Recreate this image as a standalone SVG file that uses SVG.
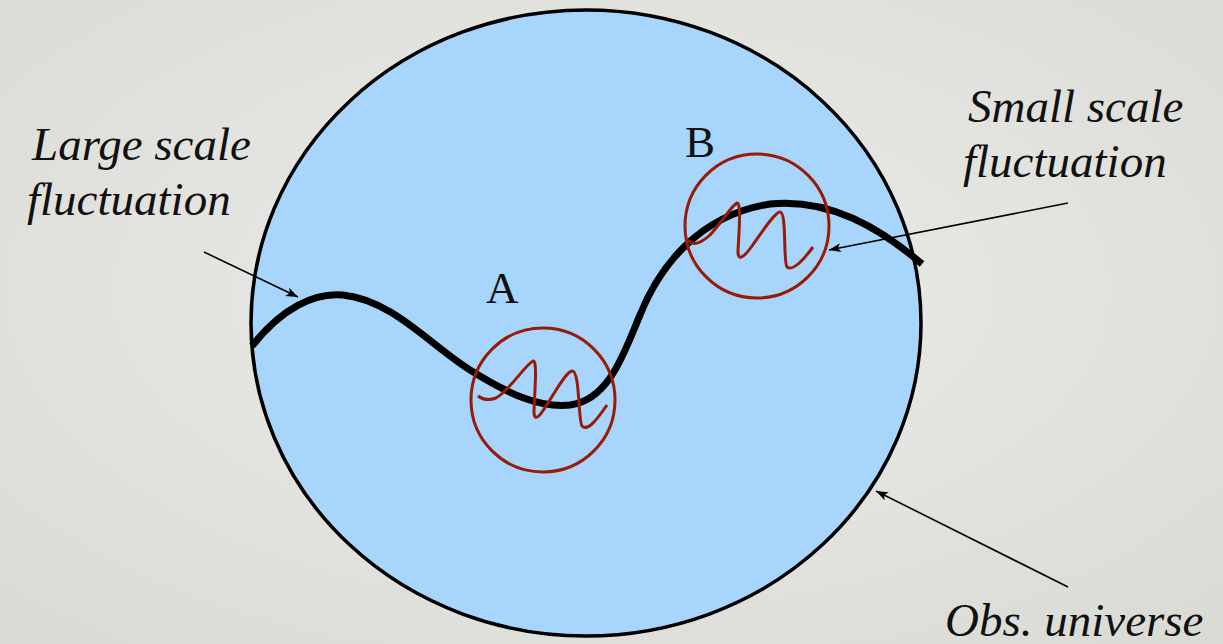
<svg xmlns="http://www.w3.org/2000/svg" width="1223" height="644" viewBox="0 0 1223 644">
<defs>
<radialGradient id="bg" cx="50%" cy="45%" r="75%">
<stop offset="0" stop-color="#ebebe8"/>
<stop offset="1" stop-color="#dadad5"/>
</radialGradient>
<marker id="ah" markerUnits="userSpaceOnUse" markerWidth="14" markerHeight="10" refX="12" refY="4.5" orient="auto">
<path d="M0,0 L12,4.5 L0,9 L3,4.5 z" fill="#000"/>
</marker>
<style>
.lbl{font-family:"Liberation Serif","Times New Roman",serif;font-style:italic;font-size:47px;fill:#111}
.pt{font-family:"Liberation Serif","Times New Roman",serif;font-size:45px;fill:#111}
.conn{stroke:#000;stroke-width:1.6;fill:none;marker-end:url(#ah)}
.red{stroke:#9a1a08;stroke-width:3;fill:none}
</style>
</defs>
<rect width="1223" height="644" fill="url(#bg)"/>
<g id="universe">
<ellipse cx="586" cy="323" rx="335" ry="313" fill="#a7d5fc" stroke="#000" stroke-width="3.5"/>
</g>
<g id="large-fluctuation">
<path d="M252,346 C 282,308 315,292 343,295 C 392,300 430,345 470,370 C 510,395 540,408 570,405 C 610,400 625,350 640,315 C 660,265 700,215 770,204 C 830,198 880,228 922,264" fill="none" stroke="#000" stroke-width="7"/>
</g>
<g id="region-A">
<circle cx="543" cy="400" r="72" class="red"/>
<path class="red" d="M478,396 Q486,402 496,398 C 510,390 525,365 533,361 C 538,359 534,400 534,412 C 534,420 538,418 542,412 C 552,398 565,372 572,371 C 580,370 578,420 582,426 C 588,432 598,418 607,405"/>
<text class="pt" x="486" y="303">A</text>
</g>
<g id="region-B">
<circle cx="757" cy="226" r="72" class="red"/>
<path class="red" d="M688,240 C 692,246 700,244 710,235 C 722,222 732,205 737,203 C 742,202 738,245 738,252 C 738,262 745,256 752,246 C 762,232 775,212 780,212 C 787,212 783,262 787,267 C 793,272 805,258 813,247"/>
<text class="pt" x="685" y="157">B</text>
</g>
<g id="label-large">
<text class="lbl" x="32" y="160">Large scale</text>
<text class="lbl" x="27" y="215">fluctuation</text>
</g>
<g id="label-small">
<text class="lbl" x="968" y="122">Small scale</text>
<text class="lbl" x="963" y="177">fluctuation</text>
</g>
<g id="label-obs">
<text class="lbl" x="945" y="636">Obs. universe</text>
</g>
<g id="connectors">
<line class="conn" x1="204" y1="252" x2="298" y2="297"/>
<line class="conn" x1="1068" y1="203" x2="829" y2="250"/>
<line class="conn" x1="1068" y1="587" x2="876" y2="491"/>
</g>
</svg>
